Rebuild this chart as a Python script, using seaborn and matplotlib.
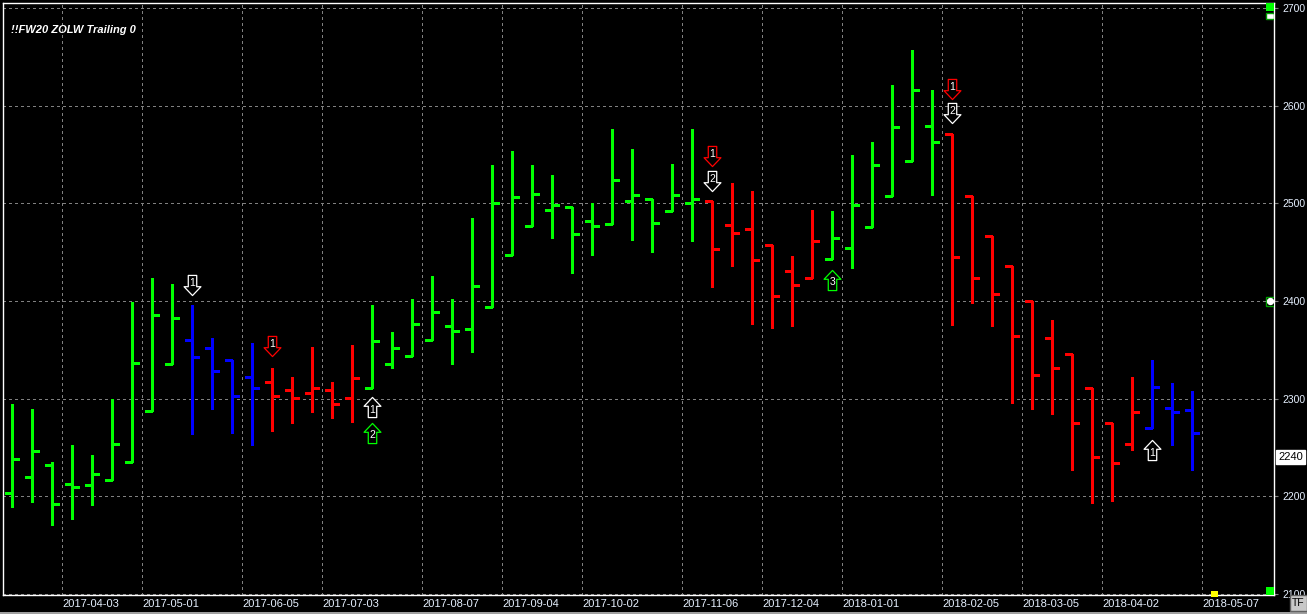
import pandas as pd
import matplotlib
matplotlib.use("Agg")
import matplotlib.pyplot as plt
import matplotlib.dates as mdates
from matplotlib.path import Path
from matplotlib.patches import Rectangle
import seaborn as sns

# weekly bars, week starting Monday
weeks = pd.date_range("2017-03-13", periods=60, freq="7D")

opens = [2203, 2220, 2232, 2213, 2212, 2217, 2235, 2287, 2336, 2360,
         2352, 2340, 2322, 2317, 2309, 2306, 2309, 2301, 2311, 2335,
         2344, 2360, 2374, 2371, 2394, 2447, 2477, 2493, 2496, 2482,
         2479, 2502, 2504, 2492, 2500, 2502, 2478, 2474, 2457, 2431,
         2424, 2443, 2454, 2476, 2508, 2543, 2579, 2571, 2508, 2467,
         2436, 2400, 2362, 2346, 2311, 2275, 2254, 2270, 2290, 2288]
highs = [2295, 2289, 2235, 2253, 2242, 2300, 2399, 2424, 2417, 2396,
         2362, 2340, 2357, 2331, 2322, 2353, 2317, 2355, 2396, 2368,
         2402, 2426, 2402, 2485, 2539, 2554, 2539, 2529, 2496, 2500,
         2576, 2556, 2504, 2540, 2576, 2502, 2521, 2513, 2457, 2446,
         2493, 2492, 2550, 2563, 2621, 2657, 2616, 2571, 2508, 2467,
         2436, 2400, 2381, 2346, 2311, 2275, 2322, 2340, 2316, 2308]
lows = [2189, 2194, 2171, 2177, 2191, 2217, 2235, 2287, 2336, 2264,
        2289, 2265, 2253, 2267, 2275, 2286, 2280, 2276, 2311, 2331,
        2344, 2360, 2335, 2348, 2394, 2447, 2477, 2465, 2429, 2447,
        2479, 2462, 2450, 2492, 2461, 2414, 2436, 2376, 2372, 2374,
        2424, 2443, 2434, 2476, 2508, 2543, 2509, 2375, 2398, 2374,
        2296, 2289, 2284, 2227, 2193, 2195, 2247, 2270, 2253, 2227]
closes = [2238, 2246, 2192, 2210, 2223, 2254, 2337, 2386, 2383, 2343,
          2328, 2303, 2311, 2303, 2301, 2311, 2295, 2321, 2359, 2352,
          2376, 2389, 2369, 2415, 2500, 2507, 2510, 2498, 2469, 2477,
          2524, 2509, 2480, 2509, 2504, 2453, 2470, 2442, 2405, 2416,
          2461, 2465, 2498, 2539, 2578, 2616, 2563, 2445, 2424, 2407,
          2364, 2324, 2331, 2275, 2240, 2234, 2286, 2312, 2286, 2265]
states = list("GGGGGGGGGBBBBRRRRRGGGGGGGGGGGGGGGGGRRRRRRGGGGGGRRRRRRRRRRBBB")

# signal arrows
sig_dates = ["2017-05-15", "2017-06-12", "2017-07-17", "2017-07-17", "2017-11-13",
             "2017-11-13", "2017-12-25", "2018-02-05", "2018-02-05", "2018-04-16"]
sig_prices = [2416, 2354, 2291, 2265, 2548, 2523, 2422, 2617, 2592, 2247]
sig_dirs = ["down", "down", "up", "up", "down", "down", "up", "down", "down", "up"]
sig_cols = ["W", "R", "W", "G", "R", "W", "G", "R", "W", "W"]
sig_labels = ["1", "1", "1", "2", "1", "2", "3", "1", "2", "1"]

date_ticks = ["2017-04-03", "2017-05-01", "2017-06-05", "2017-07-03", "2017-08-07",
              "2017-09-04", "2017-10-02", "2017-11-06", "2017-12-04", "2018-01-01",
              "2018-02-05", "2018-03-05", "2018-04-02", "2018-05-07"]
price_ticks = [2100, 2200, 2300, 2400, 2500, 2600, 2700]
last_price = 2240

palette = {"G": "#00ff00", "R": "#ff0000", "B": "#0000ff", "W": "#ffffff"}

sns.set_style("dark", {"axes.facecolor": "black", "figure.facecolor": "black"})
plt.rcParams["font.family"] = ["Liberation Sans", "DejaVu Sans"]

df = pd.DataFrame({"week": weeks, "open": opens, "high": highs, "low": lows,
                   "close": closes, "state": states})
df["x"] = mdates.date2num(df["week"]) + 3.5
df["color"] = df["state"].map(palette)

fig = plt.figure(figsize=(13.07, 6.14), dpi=100, facecolor="black")
ax = fig.add_axes([0.0025, 0.031, 0.9725, 0.9639])
ax.set_facecolor("black")

half = 2.4
bar_kw = dict(colors=df["color"], linewidth=0.75, zorder=3, antialiased=False)
ax.vlines(df["x"], df["low"], df["high"], **bar_kw)
ax.hlines(df["open"], df["x"] - half, df["x"], **bar_kw)
ax.hlines(df["close"], df["x"], df["x"] + half, **bar_kw)

# hollow arrow markers
down_arrow = Path([(-0.21, 0.5), (0.21, 0.5), (0.21, -0.06), (0.42, -0.06),
                   (0.0, -0.5), (-0.42, -0.06), (-0.21, -0.06), (-0.21, 0.5)],
                  closed=True)
up_arrow = Path([(vx, -vy) for vx, vy in down_arrow.vertices], closed=True)

sig = pd.DataFrame({"date": pd.to_datetime(sig_dates), "price": sig_prices,
                    "dir": sig_dirs, "col": sig_cols, "label": sig_labels})
sig["x"] = mdates.date2num(sig["date"]) + 3.5
for _, r in sig.iterrows():
    mk = down_arrow if r["dir"] == "down" else up_arrow
    sns.scatterplot(x=[r["x"]], y=[r["price"]], marker=mk, s=210, color="black",
                    edgecolor=palette[r["col"]], linewidth=0.9, ax=ax, zorder=5,
                    legend=False)
    dy = 1.5 if r["dir"] == "down" else -1.5
    ax.annotate(r["label"], (r["x"], r["price"]), xytext=(0, dy),
                textcoords="offset points", ha="center", va="center",
                color="white", fontsize=7.5, zorder=6)

x0 = mdates.date2num(pd.Timestamp("2017-03-13"))
ax.set_xlim(x0 + 0.35, x0 + 445.2)
ax.set_ylim(2099, 2705)

# grid
grid_kw = dict(color="#808080", linewidth=0.75, linestyle=(0, (2.5, 3.5)), zorder=1,
               antialiased=False)
for d in date_ticks:
    ax.axvline(mdates.date2num(pd.Timestamp(d)), **grid_kw)
for p in price_ticks:
    ax.axhline(p, **grid_kw)

ax.set_xticks([mdates.date2num(pd.Timestamp(d)) for d in date_ticks])
ax.set_xticklabels(date_ticks, ha="left")
ax.set_yticks(price_ticks)
ax.set_yticklabels([str(p) for p in price_ticks])
ax.yaxis.tick_right()
ax.tick_params(axis="x", length=0, pad=3, labelsize=8, colors="#e6f0ff")
ax.tick_params(axis="y", length=3, width=0.8, color="#808080", pad=3,
               labelsize=7.5, labelcolor="#e6f0ff")
for s in ax.spines.values():
    s.set_color("white")
    s.set_linewidth(1.0)
    s.set_visible(True)

ax.text(0.006, 0.955, "!!FW20 ZOLW Trailing 0", transform=ax.transAxes,
        color="white", fontsize=8, fontweight="bold", fontstyle="italic",
        va="center", ha="left")

# last price box
ax.text(1.003, last_price, str(last_price), transform=ax.get_yaxis_transform(),
        ha="left", va="center", fontsize=8, color="black", zorder=7,
        bbox=dict(boxstyle="square,pad=0.2", facecolor="white", edgecolor="white"),
        clip_on=False)

# small panel widgets
ax.add_patch(Rectangle((0.9935, 0.987), 0.0065, 0.013, transform=ax.transAxes,
                       facecolor="#00ff00", edgecolor="none", zorder=8))
ax.add_patch(Rectangle((0.9935, 0.973), 0.0065, 0.011, transform=ax.transAxes,
                       facecolor="white", edgecolor="#00a000", linewidth=1, zorder=8))
ax.add_patch(Rectangle((0.9935, 0.0), 0.0065, 0.014, transform=ax.transAxes,
                       facecolor="#00ff00", edgecolor="none", zorder=8))
ax.add_patch(Rectangle((0.9935, 0.488), 0.0065, 0.016, transform=ax.transAxes,
                       facecolor="black", edgecolor="#00a000", linewidth=1, zorder=8))
ax.scatter([0.99675], [0.496], transform=ax.transAxes, s=18, color="white", zorder=9)
ax.add_patch(Rectangle((0.9505, -0.004), 0.005, 0.01, transform=ax.transAxes,
                       facecolor="yellow", edgecolor="none", zorder=8, clip_on=False))

fig.patches.append(Rectangle((0, 0), 1, 0.004, transform=fig.transFigure,
                             facecolor="#a0a0a0", edgecolor="none"))
fig.text(0.9935, 0.018, "TF", ha="center", va="center", fontsize=7.5, color="black",
         bbox=dict(boxstyle="square,pad=0.25", facecolor="#c8c8c8", edgecolor="#606060"))

fig.savefig("out.png", dpi=100, facecolor="black")
